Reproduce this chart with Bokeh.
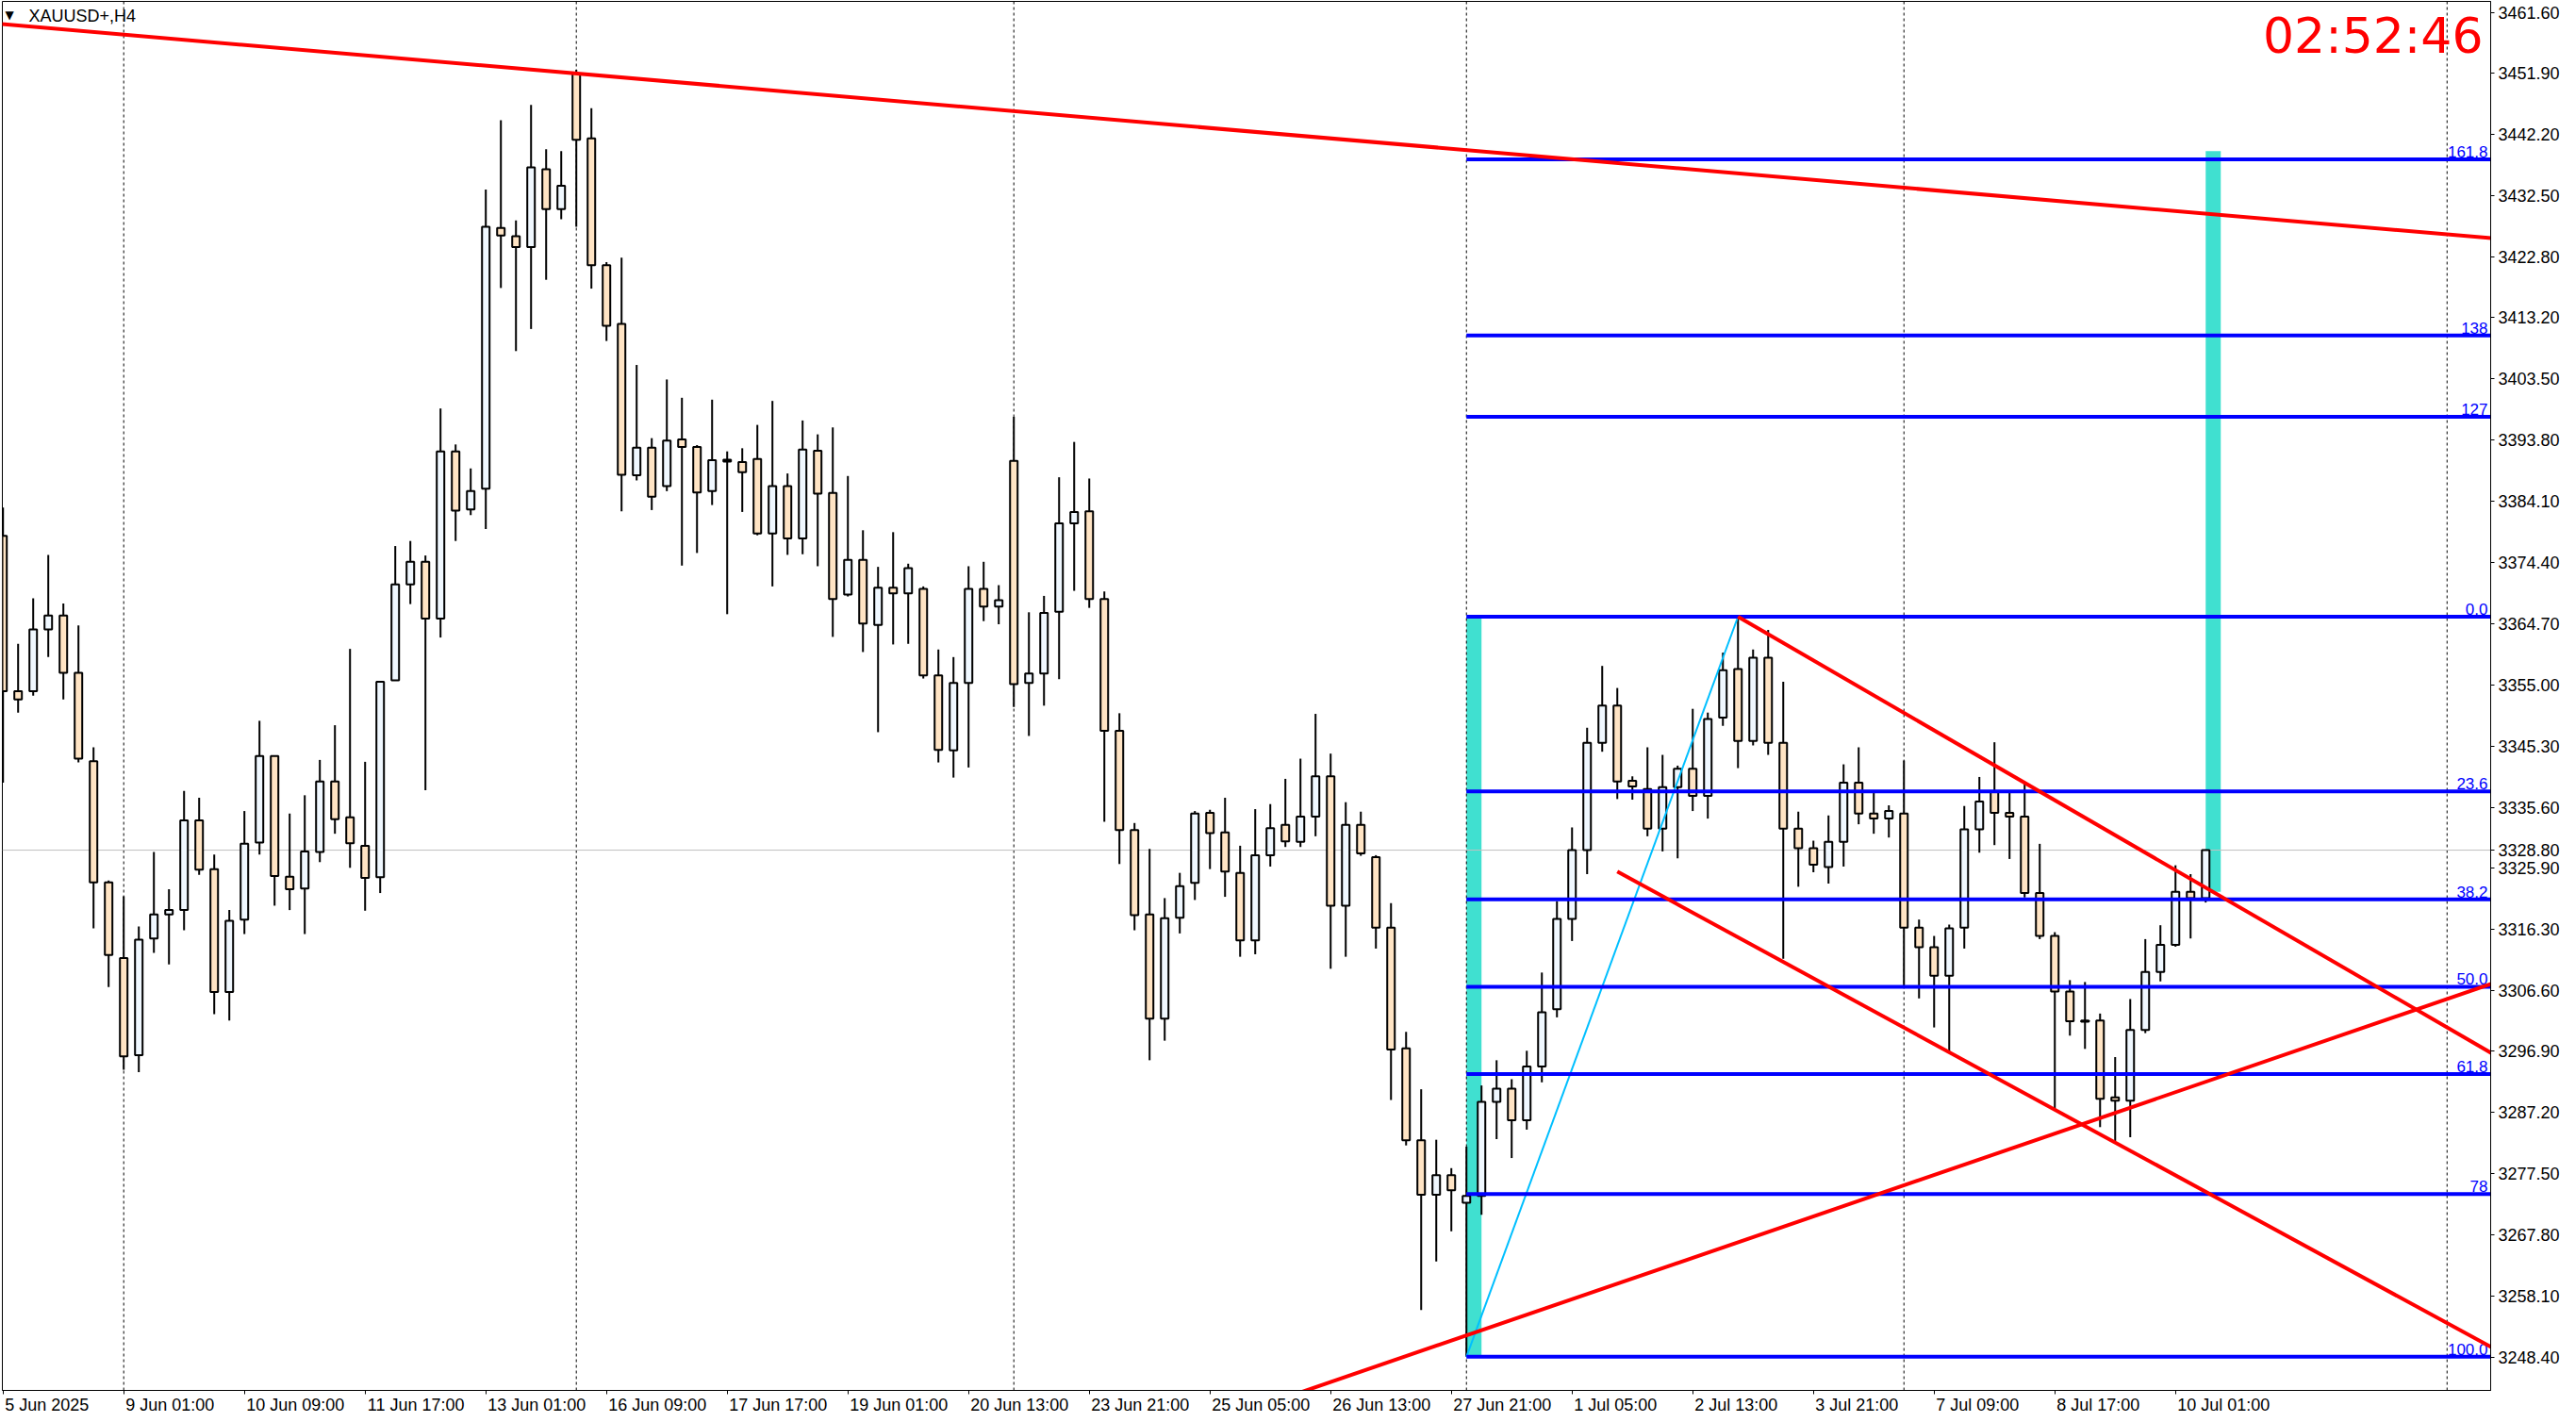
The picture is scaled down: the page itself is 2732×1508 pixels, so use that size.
from bokeh.plotting import figure
from bokeh.models import (Range1d, FixedTicker, CustomJSTickFormatter, NumeralTickFormatter,
                          Label, LinearAxis)
from bokeh.embed import file_html
from bokeh.resources import INLINE
from bokeh.core.properties import value

# ---------------- data (XAUUSD+, H4) ----------------
opens = [3378.6, 3354.0, 3354.0, 3363.8, 3366.0, 3356.9, 3342.9, 3323.7, 3311.7, 3296.3,
         3314.8, 3318.6, 3319.3, 3333.5, 3325.8, 3306.3, 3317.8, 3330.0, 3343.7, 3324.6,
         3322.7, 3328.5, 3339.7, 3334.0, 3329.5, 3324.5, 3355.7, 3370.9, 3374.5, 3365.5,
         3392.0, 3382.8, 3386.1, 3427.4, 3426.1, 3424.4, 3436.7, 3430.4, 3451.9, 3441.6,
         3421.5, 3412.2, 3388.2, 3392.6, 3386.5, 3393.9, 3392.7, 3385.7, 3390.7, 3390.3,
         3390.8, 3379.0, 3386.5, 3378.2, 3392.1, 3385.4, 3369.3, 3374.8, 3364.5, 3370.4,
         3369.5, 3370.2, 3356.5, 3344.6, 3355.3, 3370.2, 3367.4, 3390.5, 3355.3, 3356.8,
         3366.6, 3380.6, 3382.5, 3368.6, 3347.7, 3332.0, 3318.6, 3302.1, 3318.1, 3323.6,
         3334.7, 3331.6, 3325.2, 3314.5, 3328.0, 3332.8, 3330.1, 3334.1, 3340.5, 3320.0,
         3332.8, 3327.7, 3316.5, 3297.4, 3282.8, 3274.2, 3277.3, 3272.9, 3274.0, 3288.9,
         3291.0, 3286.0, 3294.5, 3303.6, 3317.9, 3328.8, 3345.8, 3351.7, 3339.8, 3338.5,
         3332.2, 3338.8, 3341.7, 3337.4, 3349.8, 3357.5, 3346.1, 3359.3, 3345.8, 3332.2,
         3329.1, 3326.1, 3330.1, 3339.5, 3334.6, 3333.8, 3334.6, 3316.5, 3313.4, 3308.9,
         3316.5, 3332.1, 3338.0, 3334.7, 3334.1, 3322.0, 3315.2, 3306.4, 3301.8, 3301.8,
         3289.6, 3289.1, 3300.3, 3309.5, 3313.8, 3322.2, 3321.2]
highs = [3383.1, 3361.5, 3368.7, 3375.6, 3367.9, 3364.4, 3345.1, 3324.0, 3321.5, 3316.7,
         3328.5, 3322.6, 3338.2, 3337.1, 3328.1, 3319.3, 3335.0, 3349.3, 3343.8, 3334.6,
         3337.5, 3343.1, 3348.6, 3360.7, 3342.8, 3355.6, 3377.0, 3377.8, 3375.5, 3398.8,
         3393.1, 3389.3, 3433.5, 3444.5, 3428.6, 3446.9, 3439.9, 3439.6, 3452.5, 3446.4,
         3422.0, 3422.7, 3405.7, 3394.1, 3403.4, 3400.5, 3393.0, 3400.2, 3392.0, 3392.5,
         3396.2, 3400.0, 3388.5, 3396.9, 3394.7, 3395.8, 3388.1, 3379.5, 3373.7, 3379.2,
         3374.2, 3370.6, 3360.6, 3359.4, 3373.8, 3374.5, 3370.8, 3397.5, 3366.5, 3369.1,
         3387.9, 3393.5, 3387.7, 3369.8, 3350.5, 3333.1, 3329.0, 3321.2, 3325.2, 3335.0,
         3335.2, 3337.1, 3329.5, 3335.3, 3336.1, 3340.1, 3343.3, 3350.4, 3344.1, 3336.4,
         3334.9, 3328.0, 3320.4, 3300.0, 3290.9, 3282.9, 3278.4, 3281.8, 3291.5, 3295.5,
         3292.5, 3297.0, 3309.4, 3320.7, 3332.4, 3348.2, 3358.0, 3354.5, 3340.5, 3345.1,
         3343.9, 3342.2, 3351.2, 3350.6, 3360.1, 3365.8, 3360.6, 3363.7, 3355.5, 3334.9,
         3330.3, 3334.3, 3342.4, 3345.1, 3337.9, 3335.9, 3343.0, 3317.8, 3315.2, 3317.0,
         3335.8, 3340.4, 3345.9, 3337.9, 3339.4, 3329.8, 3315.8, 3308.2, 3307.9, 3302.9,
         3296.0, 3305.2, 3314.7, 3316.9, 3326.4, 3325.0, 3328.9]
lows = [3339.5, 3350.6, 3353.3, 3359.4, 3352.7, 3342.7, 3316.4, 3307.1, 3294.0, 3293.6,
        3312.5, 3310.7, 3316.1, 3324.9, 3302.8, 3301.8, 3315.5, 3328.1, 3320.0, 3319.3,
        3315.5, 3326.9, 3331.4, 3326.0, 3319.2, 3322.0, 3356.0, 3367.8, 3338.3, 3362.5,
        3377.8, 3381.9, 3379.7, 3417.9, 3407.9, 3411.4, 3419.2, 3428.8, 3427.6, 3417.8,
        3409.5, 3382.5, 3387.4, 3382.7, 3385.7, 3373.9, 3375.9, 3383.5, 3366.2, 3382.4,
        3378.7, 3370.6, 3375.6, 3375.7, 3373.8, 3362.6, 3369.0, 3360.2, 3347.5, 3361.4,
        3361.5, 3356.0, 3342.7, 3340.3, 3341.9, 3365.1, 3364.6, 3351.5, 3346.9, 3351.7,
        3355.9, 3369.9, 3367.2, 3333.3, 3326.6, 3316.1, 3295.5, 3298.6, 3315.6, 3320.9,
        3325.8, 3321.4, 3311.9, 3312.3, 3326.2, 3329.3, 3329.3, 3331.0, 3310.0, 3311.9,
        3327.9, 3313.2, 3289.2, 3282.0, 3255.9, 3263.6, 3268.4, 3248.5, 3271.0, 3283.0,
        3280.0, 3284.5, 3292.0, 3302.3, 3314.4, 3325.0, 3344.4, 3336.9, 3336.8, 3331.0,
        3328.6, 3327.5, 3335.0, 3333.8, 3348.5, 3341.8, 3345.4, 3343.9, 3311.6, 3323.0,
        3325.3, 3323.5, 3326.2, 3332.9, 3331.4, 3330.8, 3307.3, 3305.3, 3300.7, 3296.9,
        3313.2, 3328.4, 3329.6, 3327.4, 3321.3, 3314.7, 3287.5, 3299.4, 3297.3, 3284.9,
        3282.7, 3283.3, 3299.8, 3308.0, 3313.5, 3314.8, 3320.5]
closes = [3354.0, 3352.7, 3363.8, 3366.0, 3356.9, 3343.3, 3323.7, 3312.2, 3296.1, 3314.6,
          3318.6, 3319.3, 3333.5, 3325.7, 3306.3, 3317.6, 3329.8, 3343.7, 3324.7, 3322.6,
          3328.6, 3339.7, 3333.7, 3329.9, 3324.4, 3355.5, 3370.9, 3374.5, 3365.5, 3392.0,
          3382.6, 3385.7, 3427.6, 3426.2, 3424.4, 3437.0, 3430.4, 3434.1, 3441.4, 3421.5,
          3411.9, 3388.3, 3392.6, 3384.8, 3393.7, 3392.7, 3385.5, 3390.6, 3390.4, 3388.7,
          3379.0, 3386.5, 3378.2, 3392.3, 3385.3, 3368.6, 3374.8, 3364.7, 3370.4, 3369.5,
          3373.5, 3356.5, 3344.7, 3355.3, 3370.2, 3367.4, 3368.4, 3355.1, 3356.8, 3366.4,
          3380.6, 3382.4, 3368.6, 3347.7, 3332.0, 3318.5, 3302.1, 3318.0, 3323.1, 3334.6,
          3331.5, 3325.4, 3314.5, 3328.0, 3332.3, 3330.2, 3334.1, 3340.5, 3320.0, 3332.8,
          3328.3, 3316.5, 3297.2, 3282.8, 3274.2, 3277.3, 3274.9, 3274.0, 3288.9, 3291.0,
          3286.0, 3294.5, 3303.1, 3317.9, 3328.8, 3345.8, 3351.7, 3339.7, 3338.9, 3332.2,
          3338.8, 3341.7, 3337.4, 3349.6, 3357.3, 3346.1, 3359.3, 3345.8, 3332.2, 3329.1,
          3326.5, 3330.1, 3339.5, 3334.6, 3333.8, 3335.0, 3316.5, 3313.4, 3308.9, 3316.4,
          3332.1, 3336.5, 3334.7, 3334.1, 3322.0, 3315.2, 3306.4, 3301.7, 3301.6, 3289.4,
          3289.1, 3300.3, 3309.5, 3313.8, 3322.2, 3321.2, 3328.8]

xtick_bars = [0, 8, 16, 24, 32, 40, 48, 56, 64, 72, 80, 88, 96, 104, 112, 120, 128, 136, 144]
xtick_labels = ["5 Jun 2025", "9 Jun 01:00", "10 Jun 09:00", "11 Jun 17:00", "13 Jun 01:00",
                "16 Jun 09:00", "17 Jun 17:00", "19 Jun 01:00", "20 Jun 13:00", "23 Jun 21:00",
                "25 Jun 05:00", "26 Jun 13:00", "27 Jun 21:00", "1 Jul 05:00", "2 Jul 13:00",
                "3 Jul 21:00", "7 Jul 09:00", "8 Jul 17:00", "10 Jul 01:00"]
week_grid_bars = [8, 38, 67, 97, 126, 162]
price_ticks = [3461.60, 3451.90, 3442.20, 3432.50, 3422.80, 3413.20, 3403.50, 3393.80, 3384.10,
               3374.40, 3364.70, 3355.00, 3345.30, 3335.60, 3325.90, 3316.30, 3306.60, 3296.90,
               3287.20, 3277.50, 3267.80, 3258.10, 3248.40]

# Fibonacci object: from bar 97 (low) to bar 115 (high)
fib_bars = [97, 115]
fib_prices = [3248.5, 3365.8]
fib_ratios = [-0.618, -0.38, -0.27, 0.0, 0.236, 0.382, 0.5, 0.618, 0.78, 1.0]
fib_labels = ["161.8", "138", "127", "0.0", "23.6", "38.2", "50.0", "61.8", "78", "100.0"]

# red trend lines: two anchor points each
trend_long = ([0, 164.9], [3459.7, 3425.8])          # long down-trend line (both ways)
trend_up = ([129.2, 149.8], [3278.3, 3295.2])        # rising support (both ways)
channel_top = ([115, 149.8], [3365.8, 3317.6])       # ray to the right
channel_bottom = ([107, 143.2], [3325.4, 3278.3])    # ray to the right

# turquoise boxes
box_left = [97, 98]
box_right = [146, 147]
box_right_prices = [3322.2, 3439.6]

symbol_title = "XAUUSD+,H4"
timer_text = "02:52:46"

# ---------------- layout ----------------
W, H = 2732, 1508
FRAME_L, FRAME_T = 2, 1
FRAME_W, FRAME_H = 2639, 1473
X0, X1 = -0.044, 164.89
Y0, Y1 = 3243.17, 3463.32
PPB = FRAME_W / (X1 - X0)

def xd(px):  # page px -> data x
    return X0 + (px - FRAME_L) * (X1 - X0) / FRAME_W

def yd(py):  # page px -> data y
    return Y1 - (py - FRAME_T) * (Y1 - Y0) / FRAME_H

p = figure(width=W, height=H, output_backend="svg", toolbar_location=None,
           x_range=Range1d(X0, X1), y_range=Range1d(Y0, Y1),
           y_axis_location="right", x_axis_location="below")
p.min_border_left = FRAME_L
p.min_border_top = FRAME_T
p.min_border_right = W - FRAME_L - FRAME_W
p.min_border_bottom = H - FRAME_T - FRAME_H
p.xgrid.visible = False
p.ygrid.visible = False
p.outline_line_color = "black"
p.outline_line_width = 1
p.background_fill_color = "white"
p.border_fill_color = "white"

bid = closes[-1]

# y axis (price scale, including the current bid price)
yax = p.yaxis[0]
yax.ticker = FixedTicker(ticks=price_ticks + [bid])
yax.formatter = NumeralTickFormatter(format="0.00")
yax.major_label_text_font = "Liberation Sans"
yax.major_label_text_font_size = "18px"
yax.major_label_text_color = "black"
yax.major_tick_out = 4
yax.major_tick_in = 0
yax.minor_tick_line_color = None
yax.major_label_standoff = 4
yax.axis_line_color = "black"
yax.major_tick_line_color = "black"

# x axis: tick marks at bars
xax = p.xaxis[0]
xax.ticker = FixedTicker(ticks=xtick_bars)
xax.formatter = CustomJSTickFormatter(code="return ''")
xax.major_label_text_font_size = "1px"
xax.major_label_standoff = 0
xax.major_tick_out = 4
xax.major_tick_in = 0
xax.minor_tick_line_color = None
xax.axis_line_color = "black"
xax.major_tick_line_color = "black"

# x axis labels: left-aligned at each tick (centre shifted by half the label width)
char_w = {" ": 0.278, ":": 0.278, "J": 0.5, "u": 0.556, "n": 0.556, "l": 0.222}
def text_px(s, size=18):
    return sum(char_w.get(ch, 0.556) for ch in s) * size
label_pos = [b + (text_px(t) / 2 + 2) / PPB for b, t in zip(xtick_bars, xtick_labels)]
xlab = LinearAxis(ticker=FixedTicker(ticks=label_pos),
                  formatter=CustomJSTickFormatter(args=dict(pos=label_pos, labels=xtick_labels), code="""
                      let k = 0, best = 1e9;
                      for (let i = 0; i < pos.length; i++) {
                          const d = Math.abs(pos[i] - tick);
                          if (d < best) { best = d; k = i; }
                      }
                      return labels[k];"""),
                  major_tick_line_color=None, minor_tick_line_color=None, axis_line_color=None,
                  major_tick_out=0, major_tick_in=0, major_label_standoff=1,
                  major_label_text_font="Liberation Sans", major_label_text_font_size="18px",
                  major_label_text_color="black")
p.add_layout(xlab, "below")

# turquoise boxes (background)
p.quad(left=[box_left[0], box_right[0]], right=[box_left[1], box_right[1]],
       bottom=[fib_prices[0], box_right_prices[0]], top=[fib_prices[1], box_right_prices[1]],
       fill_color="#40E0D0", line_color=None)

# weekly grid
p.segment(x0=week_grid_bars, y0=[Y0] * len(week_grid_bars), x1=week_grid_bars,
          y1=[Y1] * len(week_grid_bars), line_color="black", line_width=1, line_dash="3 3")

# bid line
p.segment(x0=[X0], y0=[bid], x1=[X1], y1=[bid], line_color="#C0C0C0", line_width=1)

# candles
idx = list(range(len(closes)))
tops = [max(o, c) for o, c in zip(opens, closes)]
bots = [min(o, c) for o, c in zip(opens, closes)]
cols = ["#F0F8FF" if c >= o else "#FFE4C4" for o, c in zip(opens, closes)]
p.segment(x0=idx, y0=lows, x1=idx, y1=highs, line_color="black", line_width=2)
p.vbar(x=idx, width=0.5, top=tops, bottom=bots, fill_color=cols, line_color="black", line_width=2)

# fibonacci base line and levels
p.line(x=fib_bars, y=fib_prices, line_color="#00BFFF", line_width=2)
rng = fib_prices[1] - fib_prices[0]
lvl_prices = [fib_prices[1] - r * rng for r in fib_ratios]
n = len(lvl_prices)
p.segment(x0=[fib_bars[0]] * n, y0=lvl_prices, x1=[X1 + 1] * n, y1=lvl_prices,
          line_color="#0000FF", line_width=4)
p.text(x=[X1] * n, y=lvl_prices, text=fib_labels, text_align="right", text_baseline="bottom",
       x_offset=-3, y_offset=-2, text_color="#0000FF", text_font=value("Liberation Sans"),
       text_font_size="17px")

# red lines
def line_at(pts, xx):
    (xa, xb), (ya, yb) = pts
    return ya + (yb - ya) * (xx - xa) / (xb - xa)

xs0, xs1 = [], []
ys0, ys1 = [], []
for pts in (trend_long, trend_up):
    xs0.append(X0 - 1); ys0.append(line_at(pts, X0 - 1))
    xs1.append(X1 + 1); ys1.append(line_at(pts, X1 + 1))
for pts in (channel_top, channel_bottom):
    xs0.append(pts[0][0]); ys0.append(pts[1][0])
    xs1.append(X1 + 1); ys1.append(line_at(pts, X1 + 1))
p.segment(x0=xs0, y0=ys0, x1=xs1, y1=ys1, line_color="#FF0000", line_width=4)

# title and timer
p.add_layout(Label(x=xd(5), y=yd(15), text="\u25bc", text_align="left", text_baseline="middle",
                   text_font="DejaVu Sans", text_font_size="12px", text_color="black"))
p.add_layout(Label(x=xd(30), y=yd(16), text=symbol_title, text_align="left",
                   text_baseline="middle", text_font="Liberation Sans", text_font_size="18px",
                   text_color="black"))
p.add_layout(Label(x=xd(2633), y=yd(37), text=timer_text, text_align="right",
                   text_baseline="middle", text_font="DejaVu Sans", text_font_size="52px",
                   text_color="#FF0000"))

open("out.html", "w").write(file_html(p, INLINE))
